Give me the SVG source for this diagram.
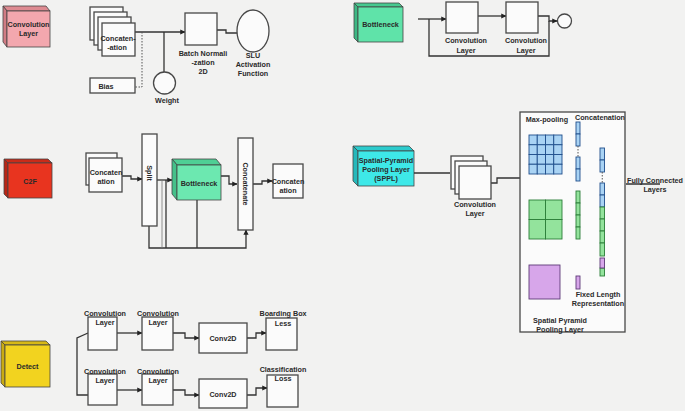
<svg xmlns="http://www.w3.org/2000/svg" width="685" height="411" viewBox="0 0 685 411">
<defs>
<style>
text{font-family:"Liberation Sans",Arial,sans-serif;font-weight:bold;font-size:7.2px;fill:#2a2a2a;text-anchor:middle;dominant-baseline:central}
.box{fill:#fbfbfb;stroke:#484848;stroke-width:1.3}
.ln{fill:none;stroke:#333;stroke-width:1.3}
.thin{fill:none;stroke:#777;stroke-width:0.8}
.dash{fill:none;stroke:#555;stroke-width:1;stroke-dasharray:1.5 1.5}
.edge{stroke:#444;stroke-width:0.8}
.blue{fill:#a9d3f4;stroke:#1f4e8c;stroke-width:0.9}
.green{fill:#93e39c;stroke:#2b7d38;stroke-width:0.9}
.purple{fill:#d7a6ea;stroke:#5e3a78;stroke-width:0.9}
</style>
<marker id="ah" viewBox="0 0 6 6" refX="5.5" refY="3" markerWidth="4" markerHeight="4" orient="auto"><path d="M0,0 L6,3 L0,6 Z" fill="#222"/></marker>
</defs>
<rect width="685" height="411" fill="#f2f2f1"/>

<!-- legend boxes -->
<g id="legend-convolution-layer">
<polygon points="3,6 46,6 50,11 7,11" fill="#de8b92" class="edge"/>
<polygon points="3,6 7,11 7,47 3,42" fill="#d07c84" class="edge"/>
<rect x="7" y="11" width="43" height="36" fill="#f3a7ae" class="edge"/>
<text x="28.5" y="24">Convolution</text><text x="28.5" y="33">Layer</text>
</g>
<g id="legend-bottleneck">
<polygon points="354,3 399,3 403,7 358,7" fill="#46c98f" class="edge"/>
<polygon points="354,3 358,7 358,42 354,38" fill="#3db884" class="edge"/>
<rect x="358" y="7" width="45" height="35" fill="#5fe3a9" class="edge"/>
<text x="380.5" y="24.5">Bottleneck</text>
</g>
<g id="legend-c2f">
<polygon points="4,159 48,159 52,163 8,163" fill="#c92b19" class="edge"/>
<polygon points="4,159 8,163 8,198 4,194" fill="#b82515" class="edge"/>
<rect x="8" y="163" width="44" height="35" fill="#e8341f" class="edge"/>
<text x="30" y="181">C2F</text>
</g>
<g id="legend-detect">
<polygon points="1,341 46,341 50,345 5,345" fill="#d7b816" class="edge"/>
<polygon points="1,341 5,345 5,387 1,383" fill="#c9ab12" class="edge"/>
<rect x="5" y="345" width="45" height="42" fill="#f2d31f" class="edge"/>
<text x="27.5" y="366">Detect</text>
</g>
<g id="legend-sppl">
<polygon points="353,146 409,146 414,151 358,151" fill="#2ccbcd" class="edge"/>
<polygon points="353,146 358,151 358,186 353,181" fill="#25b9bb" class="edge"/>
<rect x="358" y="151" width="56" height="35" fill="#3ee8e8" class="edge"/>
<text x="386" y="160">Spatial-Pyramid</text><text x="386" y="169">Pooling Layer</text><text x="386" y="178">(SPPL)</text>
</g>

<!-- connectors -->
<g id="connectors">
<path class="ln" d="M135,32 H185" marker-end="url(#ah)"/>
<path class="dash" d="M142,32 V87 H135"/>
<path class="ln" d="M164,32 V72"/>
<path class="ln" d="M217,30 H226 V33 H237"/>
<path class="ln" d="M418,19 H446" marker-end="url(#ah)"/>
<path class="ln" d="M429,19 V56 H549 V21"/>
<path class="ln" d="M478,16 H506" marker-end="url(#ah)"/>
<path class="ln" d="M538,16 H549 V21 H557" marker-end="url(#ah)"/>
<path class="ln" d="M122,176 H131 V179 H142" marker-end="url(#ah)"/>
<path class="ln" d="M157,180 H172" marker-end="url(#ah)"/>
<path class="ln" d="M221,176 H229 V184 H237" marker-end="url(#ah)"/>
<path class="ln" d="M253,184 H262 V181 H272" marker-end="url(#ah)"/>
<path class="ln" d="M149,226 V248 H246 V230" marker-end="url(#ah)"/>
<path class="thin" d="M162,180 V248"/>
<path class="ln" d="M166,180 V248"/>
<path class="ln" d="M197,200 V248"/>
<path class="ln" d="M88,333 L77,338 V395 H88" />
<path class="ln" d="M117,333 H142" marker-end="url(#ah)"/>
<path class="ln" d="M173,333 H185 V338 H199" marker-end="url(#ah)"/>
<path class="ln" d="M247,338 H256 V333 H266" marker-end="url(#ah)"/>
<path class="ln" d="M117,390 H142" marker-end="url(#ah)"/>
<path class="ln" d="M173,390 H185 V395 H199" marker-end="url(#ah)"/>
<path class="ln" d="M247,395 H256 V388 H267" marker-end="url(#ah)"/>
<path class="ln" d="M414,173 H450"/>
<path class="ln" d="M491,183 H497 V178 H520"/>
<path class="ln" d="M626,184 H660"/>
</g>

<!-- Convolution layer section -->
<g id="conv-concat">
<rect class="box" x="90" y="7" width="33" height="33"/>
<rect class="box" x="94" y="12" width="33" height="33"/>
<rect class="box" x="98" y="17" width="33" height="33"/>
<rect class="box" x="102" y="23" width="33" height="33"/>
<text x="118" y="38">Concaten-</text><text x="117" y="47">-ation</text>
</g>
<g id="bias"><rect class="box" x="90" y="78" width="45" height="15"/><text x="106" y="86">Bias</text></g>
<g id="weight"><circle class="box" cx="164.5" cy="83" r="11"/><text x="167" y="100">Weight</text></g>
<g id="batchnorm"><rect class="box" x="185" y="13" width="32" height="32"/><text x="203" y="53">Batch Normali</text><text x="203" y="62">-zation</text><text x="203" y="71">2D</text></g>
<g id="slu"><ellipse class="box" cx="253" cy="31" rx="16" ry="21"/><text x="253" y="55">SLU</text><text x="253" y="64">Activation</text><text x="253" y="73">Function</text></g>

<!-- Bottleneck section -->
<g id="bn-conv1"><rect class="box" x="446" y="2" width="32" height="31"/><text x="466" y="40">Convolution</text><text x="466" y="50">Layer</text></g>
<g id="bn-conv2"><rect class="box" x="506" y="2" width="32" height="31"/><text x="526" y="40">Convolution</text><text x="526" y="50">Layer</text></g>
<g id="bn-add"><circle class="box" cx="564.5" cy="21" r="7"/></g>

<!-- C2F section -->
<g id="c2f-concat-in">
<rect class="box" x="86" y="153" width="31" height="32"/>
<rect class="box" x="89" y="158" width="33" height="34"/>
<text x="106" y="172">Concaten</text><text x="106" y="181">ation</text>
</g>
<g id="c2f-split"><rect class="box" x="142" y="134" width="15" height="92"/><text x="149.5" y="173" transform="rotate(90 149.5 173)">Split</text></g>
<g id="c2f-bottleneck">
<polygon points="172,159 216,159 221,165 177,165" fill="#4fcf95" class="edge"/>
<polygon points="172,159 177,165 177,200 172,194" fill="#45c08a" class="edge"/>
<rect x="177" y="165" width="44" height="35" fill="#6ce8b0" class="edge"/>
<text x="199" y="183">Bottleneck</text>
</g>
<g id="c2f-concatenate"><rect class="box" x="238" y="138" width="15" height="92"/><text x="245.5" y="184" transform="rotate(90 245.5 184)">Concatenate</text></g>
<g id="c2f-concat-out"><rect class="box" x="273" y="164" width="30" height="34"/><text x="288" y="181">Concaten</text><text x="288" y="190">ation</text></g>

<!-- Detect section -->
<g id="det-conv1"><rect class="box" x="88" y="317" width="29" height="33"/><text x="105" y="313">Convolution</text><text x="105" y="322">Layer</text></g>
<g id="det-conv2"><rect class="box" x="142" y="317" width="31" height="33"/><text x="158" y="313">Convolution</text><text x="158" y="322">Layer</text></g>
<g id="det-conv2d1"><rect class="box" x="199" y="323" width="48" height="30"/><text x="223" y="338">Conv2D</text></g>
<g id="det-bbox"><rect class="box" x="266" y="318" width="31" height="32"/><text x="283" y="313">Boarding Box</text><text x="283" y="323">Less</text></g>
<g id="det-conv3"><rect class="box" x="88" y="374" width="29" height="31"/><text x="105" y="371">Convolution</text><text x="105" y="380">Layer</text></g>
<g id="det-conv4"><rect class="box" x="142" y="374" width="31" height="31"/><text x="158" y="371">Convolution</text><text x="158" y="380">Layer</text></g>
<g id="det-conv2d2"><rect class="box" x="199" y="379" width="48" height="29"/><text x="223" y="394">Conv2D</text></g>
<g id="det-cls"><rect class="box" x="267" y="375" width="31" height="32"/><text x="283" y="369">Classification</text><text x="283" y="378">Loss</text></g>

<!-- SPP section -->
<g id="spp-conv">
<rect class="box" x="451" y="156" width="32" height="33"/>
<rect class="box" x="455" y="161" width="32" height="33"/>
<rect class="box" x="459" y="166" width="32" height="33"/>
<text x="475" y="204">Convolution</text><text x="475" y="213">Layer</text>
</g>
<g id="spp-pool">
<rect class="box" x="520" y="112" width="105" height="220"/>
<text x="547" y="119">Max-pooling</text>
<text x="600" y="117">Concatenation</text>
<g class="blue">
<rect x="529" y="135" width="8.25" height="9.75"/><rect x="537.25" y="135" width="8.25" height="9.75"/><rect x="545.5" y="135" width="8.25" height="9.75"/><rect x="553.75" y="135" width="8.25" height="9.75"/>
<rect x="529" y="144.75" width="8.25" height="9.75"/><rect x="537.25" y="144.75" width="8.25" height="9.75"/><rect x="545.5" y="144.75" width="8.25" height="9.75"/><rect x="553.75" y="144.75" width="8.25" height="9.75"/>
<rect x="529" y="154.5" width="8.25" height="9.75"/><rect x="537.25" y="154.5" width="8.25" height="9.75"/><rect x="545.5" y="154.5" width="8.25" height="9.75"/><rect x="553.75" y="154.5" width="8.25" height="9.75"/>
<rect x="529" y="164.25" width="8.25" height="9.75"/><rect x="537.25" y="164.25" width="8.25" height="9.75"/><rect x="545.5" y="164.25" width="8.25" height="9.75"/><rect x="553.75" y="164.25" width="8.25" height="9.75"/>
<rect x="576" y="122" width="4" height="12"/><rect x="576" y="134" width="4" height="12"/>
<rect x="576" y="157" width="4" height="12"/><rect x="576" y="169" width="4" height="12"/>
<rect x="600" y="148" width="4.5" height="12"/><rect x="600" y="160" width="4.5" height="12"/>
<rect x="600" y="183" width="4.5" height="12"/><rect x="600" y="195" width="4.5" height="12"/>
</g>
<g class="green">
<rect x="529" y="200" width="16.5" height="19.5"/><rect x="545.5" y="200" width="16.5" height="19.5"/>
<rect x="529" y="219.5" width="16.5" height="19.5"/><rect x="545.5" y="219.5" width="16.5" height="19.5"/>
<rect x="576" y="191" width="4" height="12"/><rect x="576" y="203" width="4" height="12"/><rect x="576" y="215" width="4" height="12"/><rect x="576" y="227" width="4" height="12"/>
<rect x="600" y="207" width="4.5" height="12"/><rect x="600" y="219" width="4.5" height="12"/><rect x="600" y="231" width="4.5" height="12"/><rect x="600" y="243" width="4.5" height="13"/>
<rect x="600" y="268" width="4.5" height="8"/>
</g>
<g class="purple">
<rect x="529" y="265" width="31" height="34"/>
<rect x="576" y="276" width="4" height="13"/>
<rect x="600" y="258" width="4.5" height="10"/>
</g>
<path class="dash" d="M578,146 V157 M602.25,172 V183"/>
<text x="598" y="294">Fixed Length</text><text x="598" y="303">Representation</text>
<text x="560" y="320">Spatial Pyramid</text><text x="560" y="329">Pooling Layer</text>
</g>
<g id="fully-connected"><text x="655" y="180">Fully Connected</text><text x="655" y="189">Layers</text></g>
</svg>
